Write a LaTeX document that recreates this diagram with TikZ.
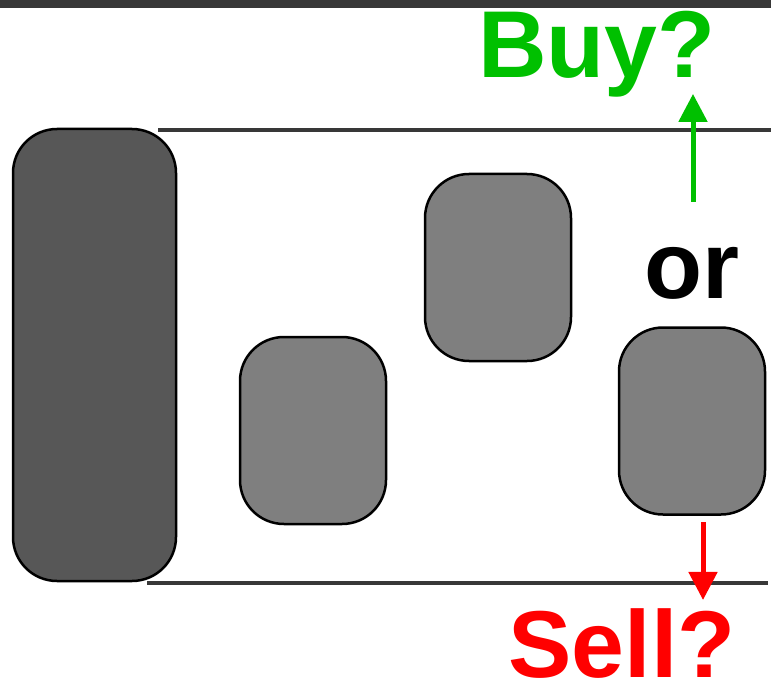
\documentclass[tikz,border=0pt]{standalone}
\usepackage{fontspec}
\setmainfont{Liberation Sans}
\usetikzlibrary{arrows.meta}
\definecolor{buygreen}{HTML}{00C000}
\definecolor{sellred}{HTML}{FF0000}
\definecolor{railgray}{HTML}{383838}
\definecolor{bigfill}{HTML}{575757}
\definecolor{smallfill}{HTML}{7F7F7F}

\begin{document}
\begin{tikzpicture}[x=1pt, y=-1pt,
    candle/.style={draw, rounded corners=44pt, line width=2.5pt, inner sep=0pt},
    smallc/.style={candle, fill=smallfill, minimum width=146pt, minimum height=187pt},
    word/.style={font=\fontsize{95}{100}\selectfont\bfseries, inner sep=0pt, anchor=base},
    rail/.style={line width=3.5pt, draw=railgray},
    arr/.style={-{Triangle[width=28pt,length=28pt]}, line width=5pt}
]
\useasboundingbox (0,0) rectangle (771,687);
\fill[railgray] (0,0) rectangle (771,8);

% candles
\node[candle, fill=bigfill, minimum width=163pt, minimum height=452pt] (big) at (94.5,355) {};
\node[smallc] (c1) at (313,430.5) {};
\node[smallc] (c2) at (498,267.5) {};
\node[smallc] (c3) at (692,421) {};

% rails
\draw[rail] (158,130) -- (771,130);
\draw[rail] (147,583) -- (768,583);

% labels
\node[word, text=buygreen] (buy) at (597,78) {Buy?};
\node[word] (or) at (692,298) {or};
\node[word, text=sellred] (sell) at (622,677) {Sell?};

\coordinate (gtail) at (693,202);
\coordinate (rtail) at (703,522);
\draw[arr, buygreen] (gtail) -- ([yshift=4pt]gtail |- buy.south);
\draw[arr, sellred] (rtail) -- ([yshift=8pt]rtail |- sell.north);
\end{tikzpicture}
\end{document}
